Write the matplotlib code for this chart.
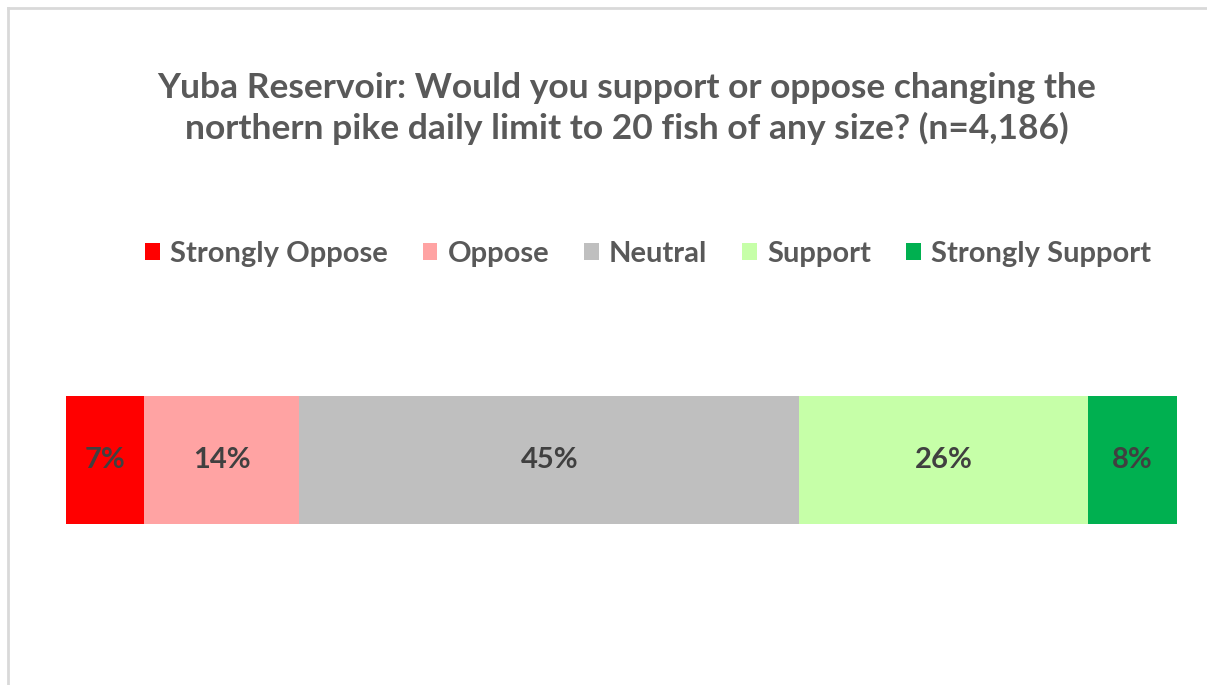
import matplotlib.pyplot as plt
from matplotlib.patches import Patch
from matplotlib.lines import Line2D

plt.rcParams['font.family'] = ['Lato', 'DejaVu Sans']

categories = ["Strongly Oppose", "Oppose", "Neutral", "Support", "Strongly Support"]
shares = [7, 14, 45, 26, 8]
colors = ["#ff0000", "#ffa3a3", "#bfbfbf", "#c6ffa8", "#00b050"]
text_gray = "#595959"
label_gray = "#404040"

W, H = 1207, 685
fig = plt.figure(figsize=(W / 100, H / 100), dpi=100)

# light frame around the chart area (only left and top edges fall inside)
frame_x, frame_y = 7.5 / W, 1 - 7.5 / H
fig.add_artist(Line2D([frame_x, frame_x], [-0.02, frame_y], transform=fig.transFigure,
                      color="#d9d9d9", linewidth=2))
fig.add_artist(Line2D([frame_x, 1.02], [frame_y, frame_y], transform=fig.transFigure,
                      color="#d9d9d9", linewidth=2))

ax = fig.add_axes([66 / W, (H - 524) / H, 1111 / W, 128 / H])
left = 0
for cat, val, col in zip(categories, shares, colors):
    ax.barh(0, val, left=left, height=1, color=col, edgecolor="none")
    ax.text(left + val / 2, 0, f"{val}%", ha="center", va="center",
            fontsize=21, fontweight="bold", color=label_gray)
    left += val
ax.set_xlim(0, sum(shares))
ax.set_ylim(-0.5, 0.5)
ax.axis("off")

fig.text(0.519, 1 - 108.5 / H,
         "Yuba Reservoir: Would you support or oppose changing the\n"
         "northern pike daily limit to 20 fish of any size? (n=4,186)",
         ha="center", va="center", fontsize=25.5, fontweight="bold",
         color=text_gray, linespacing=1.32)

handles = [Patch(facecolor=c, edgecolor="none") for c in colors]
fig.legend(handles, categories, loc="center", bbox_to_anchor=(0.537, 1 - 254 / H),
           ncol=5, frameon=False, handlelength=0.5, handleheight=0.5,
           handletextpad=0.35, columnspacing=1.2, labelcolor=text_gray,
           prop={"size": 21, "weight": "bold"})

fig.savefig("out.png", dpi=100)
